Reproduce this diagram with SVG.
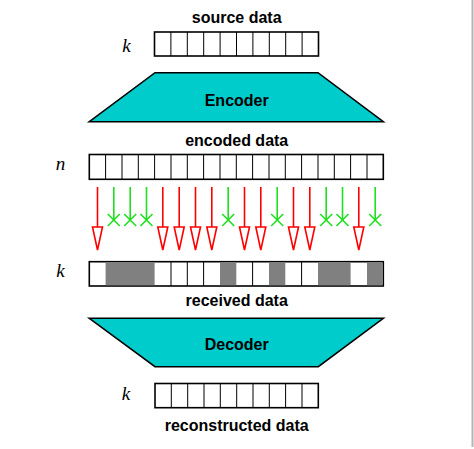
<svg xmlns="http://www.w3.org/2000/svg" width="474" height="449" viewBox="0 0 474 449">
<style>
.lbl{font-family:"Liberation Sans",Arial,sans-serif;font-weight:bold;font-size:16px;text-anchor:middle;fill:#000}
.var{font-family:"Liberation Serif","Times New Roman",serif;font-style:italic;font-size:19px;text-anchor:middle;fill:#000}
.box{fill:#fff;stroke:#000;stroke-width:1.6}
.div{stroke:#000;stroke-width:1}
.trap{fill:#00cccc;stroke:#000;stroke-width:1.6}
.red{stroke:#ff0000;stroke-width:1.6;fill:none}
.redh{stroke:#ff0000;stroke-width:1.6;fill:#fff}
.grn{stroke:#1ee01e;stroke-width:1.6;fill:none}
.lost{fill:#808080}
</style>
<defs>
<g id="redArrow">
<line class="red" x1="0" y1="187" x2="0" y2="228"/>
<path class="redh" d="M-5,227 L5,227 L0,250 Z"/>
</g>
<g id="greenX">
<line class="grn" x1="0" y1="187" x2="0" y2="220"/>
<line class="grn" x1="-6" y1="214" x2="6" y2="226"/>
<line class="grn" x1="-6" y1="226" x2="6" y2="214"/>
</g>
</defs>
<rect x="0" y="0" width="474" height="449" fill="#fff"/>
<line x1="472.5" y1="0" x2="472.5" y2="447" stroke="#b4b4b4" stroke-width="2"/>

<g id="source">
<text class="lbl" x="236.7" y="23">source data</text>
<text class="var" x="126.5" y="52">k</text>
<rect class="box" x="154.5" y="32" width="164" height="24"/>
<g class="div">
<line x1="170.9" y1="32" x2="170.9" y2="56"/><line x1="187.3" y1="32" x2="187.3" y2="56"/><line x1="203.7" y1="32" x2="203.7" y2="56"/><line x1="220.1" y1="32" x2="220.1" y2="56"/><line x1="236.5" y1="32" x2="236.5" y2="56"/><line x1="252.9" y1="32" x2="252.9" y2="56"/><line x1="269.3" y1="32" x2="269.3" y2="56"/><line x1="285.7" y1="32" x2="285.7" y2="56"/><line x1="302.1" y1="32" x2="302.1" y2="56"/>
</g>
</g>

<g id="encoder">
<path class="trap" d="M155,72.7 L318,72.7 L383.3,121.7 L89.3,121.7 Z"/>
<text class="lbl" x="236.7" y="106">Encoder</text>
</g>

<g id="encoded">
<text class="lbl" x="236.7" y="146">encoded data</text>
<text class="var" x="60.5" y="170">n</text>
<rect class="box" x="89.3" y="154.5" width="294" height="24.8"/>
<g class="div">
<line x1="105.6" y1="154.5" x2="105.6" y2="179.3"/><line x1="122" y1="154.5" x2="122" y2="179.3"/><line x1="138.3" y1="154.5" x2="138.3" y2="179.3"/><line x1="154.6" y1="154.5" x2="154.6" y2="179.3"/><line x1="171" y1="154.5" x2="171" y2="179.3"/><line x1="187.3" y1="154.5" x2="187.3" y2="179.3"/><line x1="203.6" y1="154.5" x2="203.6" y2="179.3"/><line x1="220" y1="154.5" x2="220" y2="179.3"/><line x1="236.3" y1="154.5" x2="236.3" y2="179.3"/><line x1="252.6" y1="154.5" x2="252.6" y2="179.3"/><line x1="269" y1="154.5" x2="269" y2="179.3"/><line x1="285.3" y1="154.5" x2="285.3" y2="179.3"/><line x1="301.6" y1="154.5" x2="301.6" y2="179.3"/><line x1="318" y1="154.5" x2="318" y2="179.3"/><line x1="334.3" y1="154.5" x2="334.3" y2="179.3"/><line x1="350.6" y1="154.5" x2="350.6" y2="179.3"/><line x1="367" y1="154.5" x2="367" y2="179.3"/>
</g>
</g>

<g id="connectors">
<use href="#redArrow" x="97.5"/>
<use href="#greenX" x="113.8"/>
<use href="#greenX" x="130.2"/>
<use href="#greenX" x="146.5"/>
<use href="#redArrow" x="162.8"/>
<use href="#redArrow" x="179.2"/>
<use href="#redArrow" x="195.5"/>
<use href="#redArrow" x="211.8"/>
<use href="#greenX" x="228.2"/>
<use href="#redArrow" x="244.5"/>
<use href="#redArrow" x="260.8"/>
<use href="#greenX" x="277.2"/>
<use href="#redArrow" x="293.5"/>
<use href="#redArrow" x="309.8"/>
<use href="#greenX" x="326.2"/>
<use href="#greenX" x="342.5"/>
<use href="#redArrow" x="358.8"/>
<use href="#greenX" x="375.2"/>
</g>

<g id="received">
<text class="var" x="60.5" y="277">k</text>
<rect class="box" x="89.3" y="261.7" width="294" height="24.3"/>
<g class="lost">
<rect x="105.6" y="262.5" width="49" height="22.7"/>
<rect x="220" y="262.5" width="16.3" height="22.7"/>
<rect x="269" y="262.5" width="16.3" height="22.7"/>
<rect x="318" y="262.5" width="32.6" height="22.7"/>
<rect x="367" y="262.5" width="15.5" height="22.7"/>
</g>
<g class="div">
<line x1="171" y1="261.7" x2="171" y2="286"/><line x1="187.3" y1="261.7" x2="187.3" y2="286"/><line x1="203.6" y1="261.7" x2="203.6" y2="286"/><line x1="252.6" y1="261.7" x2="252.6" y2="286"/><line x1="301.6" y1="261.7" x2="301.6" y2="286"/>
</g>
<text class="lbl" x="236.7" y="306">received data</text>
</g>

<g id="decoder">
<path class="trap" d="M89.3,318.3 L383.3,318.3 L318.3,366.7 L155,366.7 Z"/>
<text class="lbl" x="236.7" y="350">Decoder</text>
</g>

<g id="reconstructed">
<text class="var" x="126" y="400">k</text>
<rect class="box" x="155" y="383.5" width="163.3" height="24.2"/>
<g class="div">
<line x1="171.3" y1="383.5" x2="171.3" y2="407.7"/><line x1="187.7" y1="383.5" x2="187.7" y2="407.7"/><line x1="204" y1="383.5" x2="204" y2="407.7"/><line x1="220.3" y1="383.5" x2="220.3" y2="407.7"/><line x1="236.7" y1="383.5" x2="236.7" y2="407.7"/><line x1="253" y1="383.5" x2="253" y2="407.7"/><line x1="269.3" y1="383.5" x2="269.3" y2="407.7"/><line x1="285.6" y1="383.5" x2="285.6" y2="407.7"/><line x1="302" y1="383.5" x2="302" y2="407.7"/>
</g>
<text class="lbl" x="236.7" y="431">reconstructed data</text>
</g>
</svg>
